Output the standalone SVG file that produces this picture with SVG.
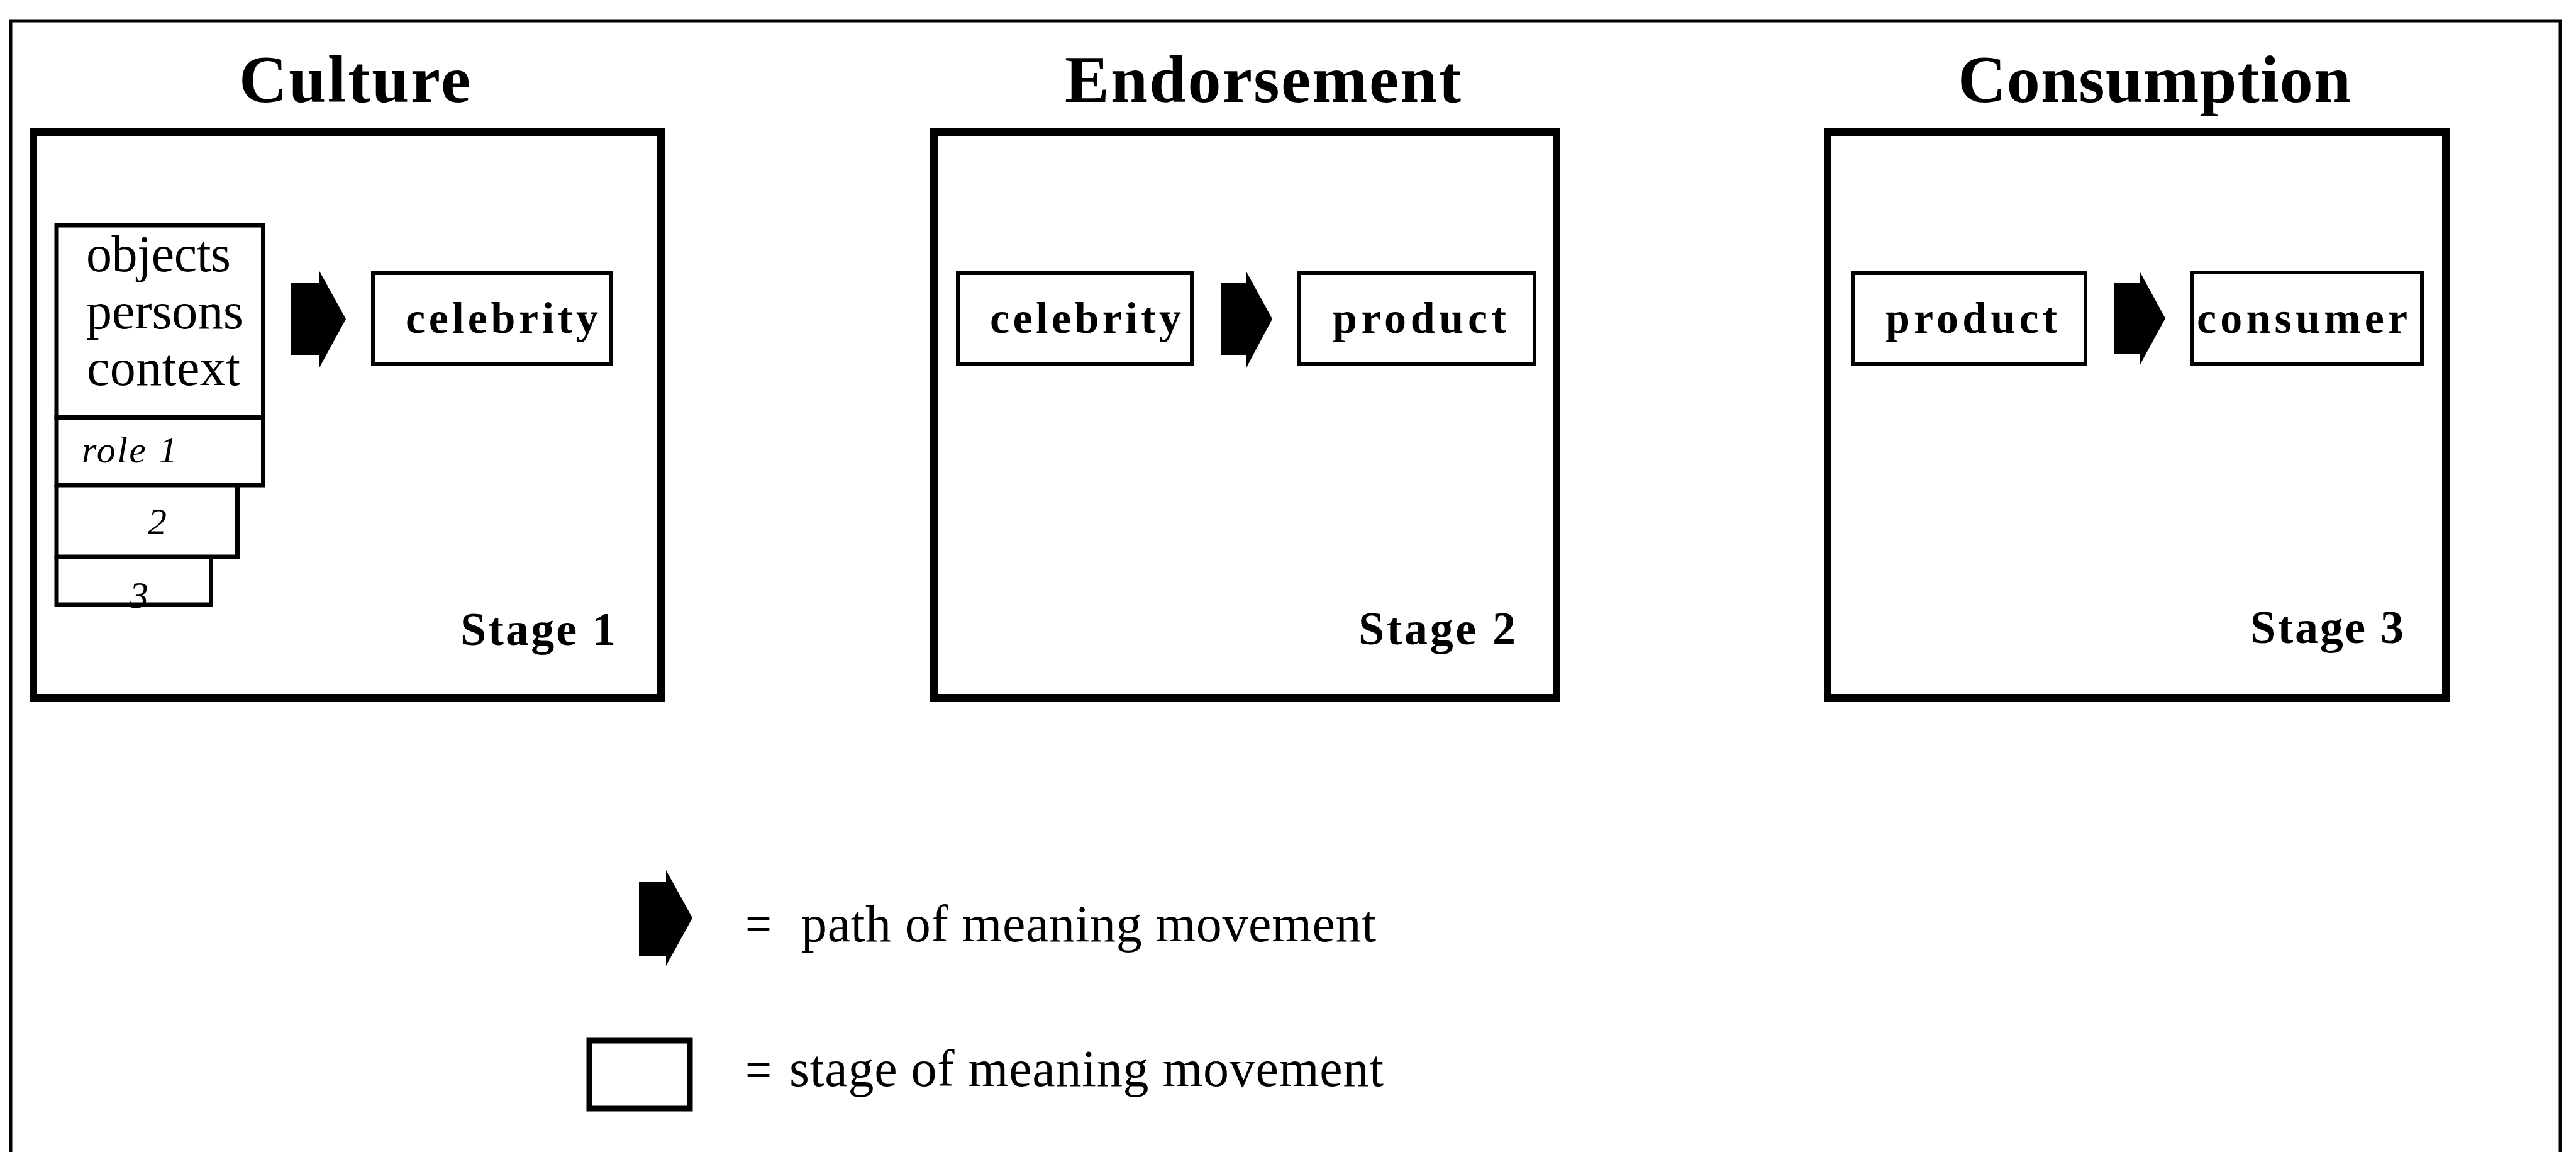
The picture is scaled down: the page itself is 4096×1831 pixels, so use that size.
<svg xmlns="http://www.w3.org/2000/svg" width="4096" height="1831" viewBox="0 0 4096 1831">
<style>
.frame{fill:none;stroke:#000;stroke-width:5}
.stage{fill:none;stroke:#000;stroke-width:12}
.box{fill:#fff;stroke:#000;stroke-width:6}
.sbox{fill:none;stroke:#000;stroke-width:7}
.title{font-family:"Liberation Serif","Times New Roman",serif;font-weight:bold;font-size:106px;fill:#000}
.lbl{font-family:"Liberation Serif","Times New Roman",serif;font-weight:bold;font-size:70px;fill:#000}
.stg{font-family:"Liberation Serif","Times New Roman",serif;font-weight:bold;font-size:74px;fill:#000}
.reg{font-family:"Liberation Serif","Times New Roman",serif;font-size:82px;fill:#000}
.it{font-family:"Liberation Serif","Times New Roman",serif;font-style:italic;font-size:60px;fill:#000}
.arrow{fill:#000;stroke:none}
</style>
<rect width="4096" height="1831" fill="#fff"/>
<path class="frame" d="M17,1831 V33 H4071 V1831"/>

<g id="stage1">
<rect class="stage" x="53" y="210" width="998" height="899"/>
<text class="title" x="380" y="162" textLength="368" lengthAdjust="spacing">Culture</text>
<text class="stg" x="732" y="1025" textLength="247" lengthAdjust="spacing">Stage 1</text>
</g>
<g id="stage2">
<rect class="stage" x="1485" y="210" width="990" height="899"/>
<text class="title" x="1693" y="162" textLength="630" lengthAdjust="spacing">Endorsement</text>
<text class="stg" x="2160" y="1024" textLength="250" lengthAdjust="spacing">Stage 2</text>
</g>
<g id="stage3">
<rect class="stage" x="2906" y="210" width="983" height="899"/>
<text class="title" x="3113" y="162" textLength="625" lengthAdjust="spacing">Consumption</text>
<text class="stg" x="3578" y="1022" textLength="244" lengthAdjust="spacing">Stage 3</text>
</g>

<g id="sources">
<text class="it" x="206" y="966">3</text>
<path class="sbox" d="M90,884 V961 H335.5 V884"/>
<path class="sbox" d="M90,771 V885 H377.5 V771"/>
<rect class="sbox" x="90" y="663.5" width="328.5" height="107.5"/>
<rect class="sbox" x="90" y="358" width="328.5" height="305.5"/>
<text class="reg" x="137" y="431" textLength="230" lengthAdjust="spacing">objects</text>
<text class="reg" x="137" y="522" textLength="250" lengthAdjust="spacing">persons</text>
<text class="reg" x="138" y="612" textLength="244" lengthAdjust="spacing">context</text>
<text class="it" x="130" y="735" textLength="152" lengthAdjust="spacing">role 1</text>
<text class="it" x="235" y="849">2</text>
</g>

<g id="celebrity1">
<rect class="box" x="593" y="434" width="379" height="145"/>
<text class="lbl" x="645" y="529" textLength="306" lengthAdjust="spacing">celebrity</text>
</g>
<g id="celebrity2">
<rect class="box" x="1523" y="434" width="372" height="145"/>
<text class="lbl" x="1574" y="529" textLength="304" lengthAdjust="spacing">celebrity</text>
</g>
<g id="product2">
<rect class="box" x="2066" y="434" width="374" height="145"/>
<text class="lbl" x="2119" y="529" textLength="276" lengthAdjust="spacing">product</text>
</g>
<g id="product3">
<rect class="box" x="2946" y="434" width="370" height="145"/>
<text class="lbl" x="2998" y="529" textLength="273" lengthAdjust="spacing">product</text>
</g>
<g id="consumer">
<rect class="box" x="3486" y="433" width="365" height="146"/>
<text class="lbl" x="3493" y="529" textLength="335" lengthAdjust="spacing">consumer</text>
</g>

<g id="connectors">
<path class="arrow" d="M463,450 H508 V431 L550,507 L508,584 V564 H463 Z"/>
<path class="arrow" d="M1942,450 H1982 V432 L2023,507 L1982,584 V564 H1942 Z"/>
<path class="arrow" d="M3361,450 H3402 V431 L3443,506 L3402,581 V563 H3361 Z"/>
</g>

<g id="legend">
<path class="arrow" d="M1016,1402 H1059 V1383 L1101,1459 L1059,1535 V1519 H1016 Z"/>
<text class="reg" x="1185" y="1496" textLength="42" lengthAdjust="spacingAndGlyphs">=</text>
<text class="reg" x="1274" y="1496" textLength="914" lengthAdjust="spacing">path of meaning movement</text>
<rect x="937" y="1654" width="160" height="108" fill="none" stroke="#000" stroke-width="9"/>
<text class="reg" x="1185" y="1728" textLength="42" lengthAdjust="spacingAndGlyphs">=</text>
<text class="reg" x="1255" y="1726" textLength="945" lengthAdjust="spacing">stage of meaning movement</text>
</g>
</svg>
